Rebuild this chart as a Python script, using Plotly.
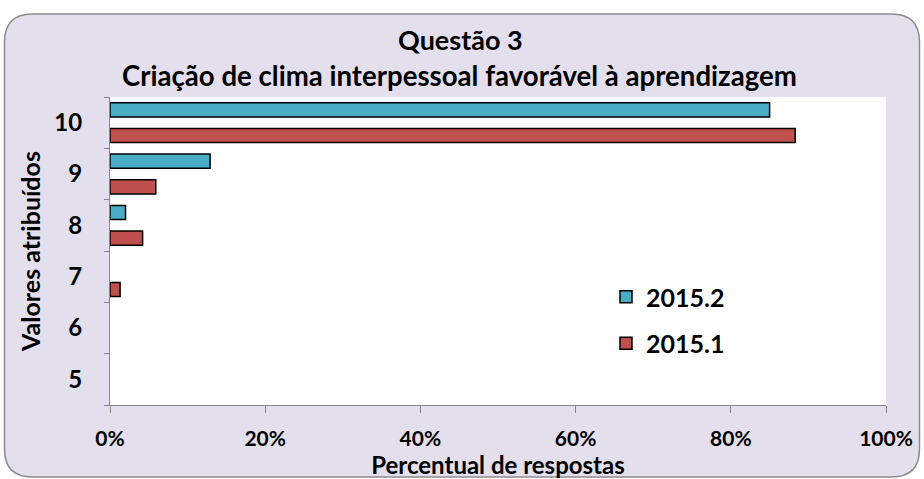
import plotly.graph_objects as go

categories = ['5', '6', '7', '8', '9', '10']
series_2015_1 = [0, 0, 1.3, 4.2, 5.9, 88.3]
series_2015_2 = [0, 0, 0, 2.0, 12.9, 85.0]
x_ticks = [0, 20, 40, 60, 80, 100]
x_tick_labels = ['0%', '20%', '40%', '60%', '80%', '100%']

W, H = 924, 479
L, R, T, B = 110, 38, 97, 74
PW, PH = W - L - R, H - T - B

FONT = 'Lato'
LAV = '#E4DFEC'
AXIS = '#868686'


def px(x):
    return (x - L) / PW


def py(y):
    return (H - B - y) / PH


def rounded_path(x0, y0, x1, y1, r):
    pts = [
        ('M', [(x0 + r, y0)]), ('L', [(x1 - r, y0)]), ('Q', [(x1, y0), (x1, y0 + r)]),
        ('L', [(x1, y1 - r)]), ('Q', [(x1, y1), (x1 - r, y1)]),
        ('L', [(x0 + r, y1)]), ('Q', [(x0, y1), (x0, y1 - r)]),
        ('L', [(x0, y0 + r)]), ('Q', [(x0, y0), (x0 + r, y0)]),
    ]
    s = ''
    for cmd, ps in pts:
        s += cmd + ' ' + ' '.join(f'{px(a):.5f},{py(b):.5f}' for a, b in ps) + ' '
    return s + 'Z'


def nz(vals):
    # zero values draw no bar at all
    return [v if v else None for v in vals]


fig = go.Figure()
fig.add_trace(go.Bar(y=categories, x=nz(series_2015_1), name='2015.1', orientation='h',
    marker=dict(color='#C0504D', line=dict(color='#000000', width=1.5)),
    legendgroup='g1', legendrank=2))
fig.add_trace(go.Bar(y=categories, x=nz(series_2015_2), name='2015.2', orientation='h',
    marker=dict(color='#4BACC6', line=dict(color='#000000', width=1.5)),
    legendgroup='g2', legendrank=1))

fig.update_layout(
    width=W, height=H, margin=dict(l=L, r=R, t=T, b=B),
    paper_bgcolor='white', plot_bgcolor='white',
    font=dict(family=FONT, color='#000000', weight='bold'),
    barmode='group', bargap=0, bargroupgap=0.45,
    showlegend=True,
    legend=dict(x=px(606), y=py(274), xanchor='left', yanchor='top',
                traceorder='grouped', tracegroupgap=11, itemwidth=30,
                bgcolor='rgba(0,0,0,0)', font=dict(size=25, family=FONT, weight='bold')),
    xaxis=dict(range=[0, 100], tickvals=x_ticks, ticktext=x_tick_labels, showgrid=False,
               zeroline=False, automargin=False,
               showline=True, linecolor=AXIS, linewidth=1, ticks='outside', ticklen=7,
               tickcolor=AXIS, tickfont=dict(size=21, family=FONT, weight='bold'),
               ticklabelstandoff=8,
               title=dict(text='Percentual de respostas', standoff=6,
                          font=dict(size=24, family=FONT, weight='bold'))),
    yaxis=dict(categoryorder='array', categoryarray=categories, showgrid=False, zeroline=False,
               automargin=False,
               showline=True, linecolor=AXIS, linewidth=1, ticks='outside', ticklen=5,
               tickcolor=AXIS, tickson='boundaries',
               tickfont=dict(size=24, family=FONT, weight='bold'), ticklabelstandoff=22,
               title=dict(text='Valores atribuídos', standoff=6,
                          font=dict(size=25, family=FONT, weight='bold'))),
    shapes=[
        dict(type='path', xref='paper', yref='paper', layer='below',
             path=rounded_path(4.5, 14, 919.5, 477, 28),
             fillcolor=LAV, line=dict(color='#8C8C8C', width=1.5)),
        dict(type='rect', xref='paper', yref='paper', layer='below',
             x0=0, x1=1, y0=0, y1=1, fillcolor='white', line=dict(width=0)),
    ],
    annotations=[
        dict(text='Questão 3', x=px(460), y=py(40), xref='paper', yref='paper',
             xanchor='center', yanchor='middle',
             showarrow=False, font=dict(size=27, family=FONT, weight='bold')),
        dict(text='Criação de clima interpessoal favorável à aprendizagem', x=px(459), y=py(75),
             xref='paper', yref='paper', xanchor='center', yanchor='middle', showarrow=False,
             font=dict(size=27.6, family=FONT, weight='bold')),
    ],
)

fig.write_html('out.html', config={'displayModeBar': False},
               post_script="document.body.style.margin='0px';")
